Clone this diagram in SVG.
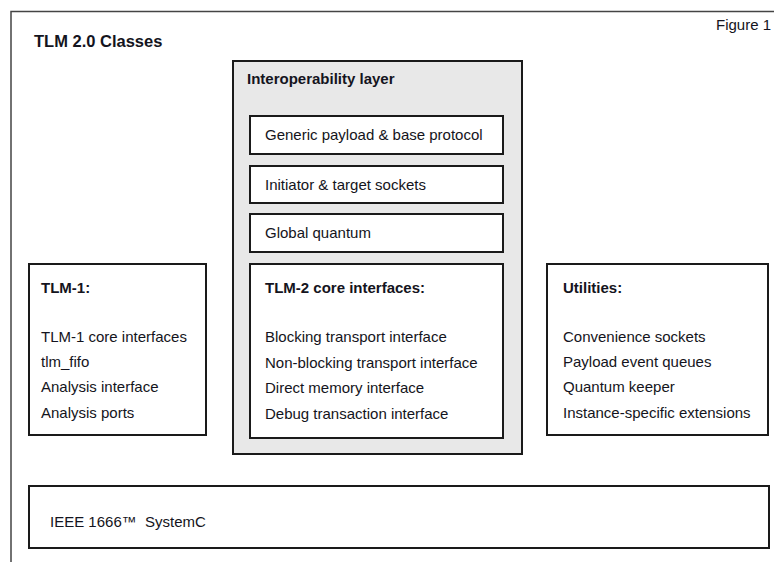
<svg xmlns="http://www.w3.org/2000/svg" width="774" height="562" viewBox="0 0 774 562">
  <style>
    .frame { fill: none; stroke: #444; stroke-width: 1.5; }
    .box { fill: #fff; stroke: #1a1a1a; stroke-width: 2; }
    .layer { fill: #e8e8e8; stroke: #1a1a1a; stroke-width: 2; }
    text { font-family: "Liberation Sans", Arial, sans-serif; font-size: 15px; fill: #141420; }
    .b { font-weight: bold; }
    .title { font-size: 16.5px; font-weight: bold; }
  </style>

  <!-- page frame (top and left edges) -->
  <path class="frame" d="M11,562 V11.5 H774"/>
  <text id="figure-label" x="716" y="30">Figure 1</text>
  <text id="title" class="title" x="34" y="47">TLM 2.0 Classes</text>

  <!-- interoperability layer with its inner parts -->
  <g id="interop">
    <rect class="layer" x="233" y="61" width="289" height="393"/>
    <text class="b" x="247" y="84">Interoperability layer</text>
  </g>
  <g id="generic-payload">
    <rect class="box" x="250" y="116" width="253" height="38"/>
    <text x="265" y="140">Generic payload &amp; base protocol</text>
  </g>
  <g id="sockets">
    <rect class="box" x="250" y="166" width="253" height="37"/>
    <text x="265" y="190">Initiator &amp; target sockets</text>
  </g>
  <g id="quantum">
    <rect class="box" x="250" y="214" width="253" height="38"/>
    <text x="265" y="238">Global quantum</text>
  </g>
  <g id="tlm2-core">
    <rect class="box" x="250" y="264" width="253" height="174"/>
    <text class="b" x="265" y="293">TLM-2 core interfaces:</text>
    <text x="265" y="342">Blocking transport interface</text>
    <text x="265" y="368">Non-blocking transport interface</text>
    <text x="265" y="393">Direct memory interface</text>
    <text x="265" y="419">Debug transaction interface</text>
  </g>

  <!-- side columns -->
  <g id="tlm1">
    <rect class="box" x="29" y="264" width="177" height="171"/>
    <text class="b" x="41" y="293">TLM-1:</text>
    <text x="41" y="342">TLM-1 core interfaces</text>
    <text x="41" y="367">tlm_fifo</text>
    <text x="41" y="392">Analysis interface</text>
    <text x="41" y="418">Analysis ports</text>
  </g>
  <g id="utilities">
    <rect class="box" x="547" y="264" width="221" height="171"/>
    <text class="b" x="563" y="293">Utilities:</text>
    <text x="563" y="342">Convenience sockets</text>
    <text x="563" y="367">Payload event queues</text>
    <text x="563" y="392">Quantum keeper</text>
    <text x="563" y="418">Instance-specific extensions</text>
  </g>

  <!-- base layer -->
  <g id="systemc">
    <rect class="box" x="29" y="486" width="740" height="62"/>
    <text x="50" y="527" xml:space="preserve">IEEE 1666™  SystemC</text>
  </g>

  <g id="connectors"/>
</svg>
